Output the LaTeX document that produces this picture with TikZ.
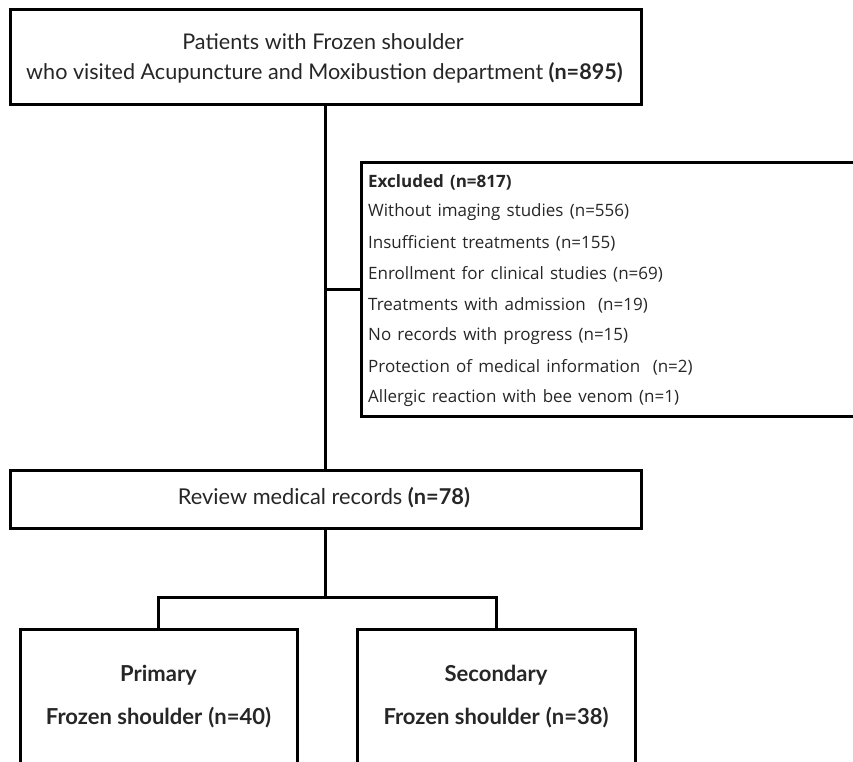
\documentclass[tikz,border=0pt]{standalone}
\usepackage{fontspec}
\setmainfont{Lato}
\newfontfamily\listfont[WordSpace={1.4}]{Open Sans}
\begin{document}
\begin{tikzpicture}[x=1pt,y=-1pt,
  box/.style={draw=black,line width=3pt,inner sep=0pt},
  conn/.style={draw=black,line width=3pt},
  txt/.style={inner sep=0pt,text=black!85}]
\useasboundingbox (0,0) rectangle (853,762);
\clip (0,0) rectangle (853,762);
% boxes
\node[box,minimum width=631pt,minimum height=95pt] (top) at (325.5,57.5) {};
\node[box,minimum width=520pt,minimum height=254pt,anchor=north west] (excl) at (360,161) {};
\node[box,minimum width=631pt,minimum height=58pt] (review) at (325.5,499.5) {};
\node[box,minimum width=277pt,minimum height=160pt,anchor=north] (prim) at (158.5,628) {};
\node[box,minimum width=278pt,minimum height=160pt,anchor=north] (sec) at (496,628) {};
% texts
\node[txt,font=\fontsize{21.6}{22}\selectfont] (t1) at (323,42) {Patients with Frozen shoulder};
\node[txt,font=\fontsize{21.6}{22}\selectfont] (t2) at (324.5,73) {who visited Acupuncture and Moxibustion department \textbf{(n=895)}};
\node[txt,font=\fontsize{21.8}{22}\selectfont] (t3) at (324,498) {Review medical records \textbf{(n=78)}};
\node[txt,font=\fontsize{22}{22}\selectfont\bfseries] (p1) at (158.5,675) {Primary};
\node[txt,font=\fontsize{22}{22}\selectfont\bfseries] (p2) at (158.5,718) {Frozen shoulder\hspace{6pt}(n=40)};
\node[txt,font=\fontsize{22}{22}\selectfont\bfseries] (s1) at (496,675) {Secondary};
\node[txt,font=\fontsize{22}{22}\selectfont\bfseries] (s2) at (496,718) {Frozen shoulder\hspace{6pt}(n=38)};
\begin{scope}[every node/.style={txt,anchor=west,font=\listfont\fontsize{17}{17}\selectfont}]
\node (e0) at (368,182) {\textbf{Excluded (n=817)}};
\node (e1) at (368,212) {Without imaging studies (n=556)};
\node (e2) at (368,243) {Insufficient treatments (n=155)};
\node (e3) at (368,274) {Enrollment for clinical studies (n=69)};
\node (e4) at (368,305) {Treatments with admission\ \ (n=19)};
\node (e5) at (368,336) {No records with progress (n=15)};
\node (e6) at (368,367) {Protection of medical information\ \ (n=2)};
\node (e7) at (368,398) {Allergic reaction with bee venom (n=1)};
\end{scope}
% connectors
\draw[conn] (top.south) -- (review.north);
\coordinate (ej) at (top.south |- excl.west);
\draw[conn] (ej) -- (excl.west);
\coordinate (split) at (review.south |- 0,597);
\draw[conn] (review.south) -- (split);
\draw[conn] (prim.north) |- (split) -| (sec.north);
\end{tikzpicture}
\end{document}
